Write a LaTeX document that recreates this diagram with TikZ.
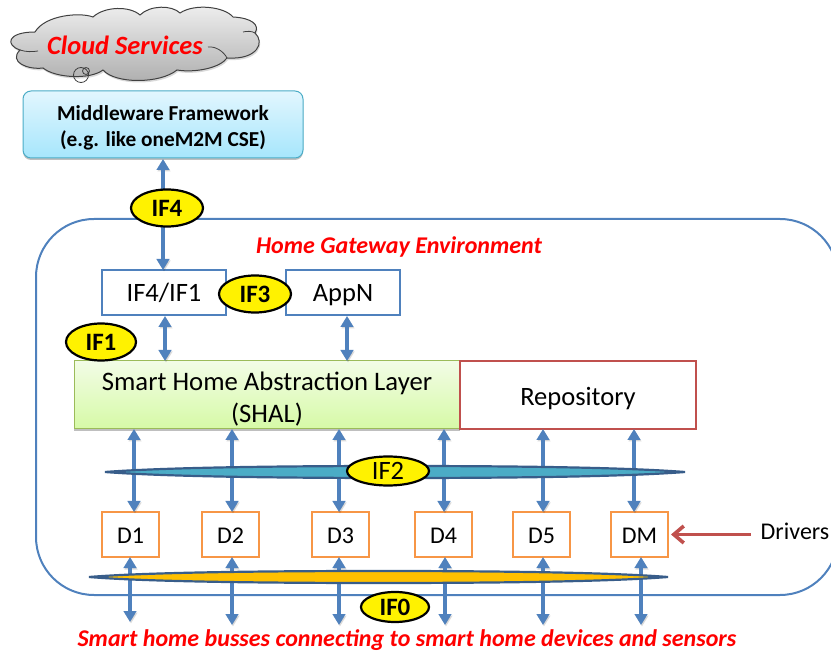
\documentclass[tikz,border=0pt]{standalone}
\usepackage{fontspec}
\setmainfont{Carlito}
\usetikzlibrary{arrows.meta,shapes.geometric,calc}
\definecolor{accblue}{HTML}{4F81BD}
\definecolor{accdark}{HTML}{385D8A}
\definecolor{accred}{HTML}{C0504D}
\definecolor{accorange}{HTML}{F79646}
\definecolor{accaqua}{HTML}{4BACC6}
\definecolor{accgreen}{HTML}{9BBB59}
\definecolor{mwtop}{HTML}{E2F6FE}
\definecolor{mwbot}{HTML}{A6E6FC}
\definecolor{shaltop}{HTML}{F2FCE6}
\definecolor{shalbot}{HTML}{D6FAA6}
\definecolor{busgold}{HTML}{FFC000}
\tikzset{
  every node/.style={outer sep=0pt},
  twoway/.style={draw=accblue,line width=3.8pt,{Triangle[length=11pt,width=12.5pt]}-{Triangle[length=11pt,width=12.5pt]},
    preaction={draw=black,draw opacity=.14,fill opacity=.14,transform canvas={shift={(1pt,-1.5pt)}}}},
  appbox/.style={draw=accblue,line width=2pt,fill=white,minimum width=#1,minimum height=45pt,inner sep=0pt,text height=19pt,text depth=0pt,font=\fontsize{26.5}{30}\selectfont},
  drvbox/.style={draw=accorange,line width=2pt,fill=white,minimum width=57pt,minimum height=45pt,inner sep=0pt,text height=18pt,text depth=0pt,font=\fontsize{24}{28}\selectfont},
  tagnode/.style={ellipse,draw=black,line width=2.2pt,fill=yellow,inner sep=0pt,minimum width=#1,font=\bfseries\fontsize{25}{28}\selectfont},
  tagnode/.default=70pt,
  busline/.style={draw=accdark,line width=2.2pt},
  redlabel/.style={text=red,font=\bfseries\itshape\fontsize{24}{28}\selectfont,inner sep=0pt}
}
\begin{document}
\begin{tikzpicture}[x=1pt,y=-1pt]
\path[use as bounding box] (0,0) rectangle (831,652);
\clip (0,0) rectangle (831,652);
% home gateway environment
\node[draw=accblue,line width=2pt,rounded corners=58pt,minimum width=802pt,minimum height=376pt,inner sep=0pt,anchor=north west] (home) at (36,219) {};
\node[redlabel] (homelabel) at (399,247) {Home Gateway Environment};
% cloud
\path[draw=black!75,line width=1pt,top color=black!6,bottom color=black!32,
  preaction={fill=black,fill opacity=.15,transform canvas={shift={(1pt,-2pt)}}}]
  (35,32) .. controls (45,15) and (80,12) .. (93,17)
  .. controls (105,6) and (130,6) .. (140,15)
  .. controls (150,5) and (172,5) .. (180,13)
  .. controls (195,3) and (225,7) .. (233,17)
  .. controls (252,18) and (260,25) .. (255,33)
  .. controls (265,42) and (258,60) .. (227,58)
  .. controls (220,68) and (195,73) .. (177,70)
  .. controls (160,84) and (115,84) .. (103,70)
  .. controls (90,80) and (55,78) .. (43,68)
  .. controls (28,70) and (8,62) .. (20,50)
  .. controls (5,45) and (7,32) .. (35,32) -- cycle;
\draw[black!75,line width=.8pt]
  (20,50) .. controls (26,52) and (32,52) .. (38,51)
  (208,47) .. controls (216,46) and (224,52) .. (227,58)
  (243,32) .. controls (247,31) and (252,31) .. (255,33)
  (81,75) circle[radius=7.5] (86,71) circle[radius=3.5];
\node[redlabel,font=\bfseries\itshape\fontsize{26.4}{30}\selectfont] (cloudlabel) at (125,45) {Cloud Services};
% middleware
\node[rounded corners=8pt,draw=accaqua,line width=1pt,top color=mwtop,bottom color=mwbot,minimum width=280pt,minimum height=67pt,anchor=north west,inner sep=0pt,align=center,font=\bfseries\fontsize{21.3}{26}\selectfont,
  preaction={fill=black,fill opacity=.25,transform canvas={shift={(0pt,-2pt)}}}] (mw) at (23,91) {\rule{0pt}{22pt}Middleware Framework\\(e.g. like oneM2M CSE)};
% app boxes
\node[appbox=124pt,anchor=north west] (ifbox) at (102,270) {IF4/IF1};
\node[appbox=114pt,anchor=north west] (appn) at (286,270) {AppN};
% SHAL, repository
\node[draw=accgreen,line width=1pt,top color=shaltop,bottom color=shalbot,minimum width=386pt,minimum height=68pt,anchor=north west,inner sep=0pt,align=center,font=\fontsize{26.7}{32}\selectfont,
  preaction={fill=black,fill opacity=.25,transform canvas={shift={(0pt,-2pt)}}}] (shal) at (74,361) {\rule{0pt}{27pt}Smart Home Abstraction Layer\\(SHAL)};
\node[draw=accred,line width=2pt,fill=white,minimum width=236pt,minimum height=68pt,anchor=north west,inner sep=0pt,text height=21pt,text depth=0pt,font=\fontsize{26.5}{30}\selectfont] (repo) at (460,361) {Repository};
% drivers
\node[drvbox,anchor=north west] (d1) at (102,512) {D1};
\node[drvbox,anchor=north west] (d2) at (202,512) {D2};
\node[drvbox,anchor=north west] (d3) at (312,512) {D3};
\node[drvbox,anchor=north west] (d4) at (415,512) {D4};
\node[drvbox,anchor=north west] (d5) at (513,512) {D5};
\node[drvbox,anchor=north west] (dm) at (611,512) {DM};
% arrow columns
\coordinate (ua) at (134,0); \coordinate (ub) at (232,0); \coordinate (uc) at (339,0);
\coordinate (ud) at (444,0); \coordinate (ue) at (543,0); \coordinate (uf) at (634,0);
\coordinate (la) at (130,622); \coordinate (lb) at (232,625); \coordinate (lc) at (339,625);
\coordinate (ld) at (445,625); \coordinate (le) at (543,625); \coordinate (lf) at (641,625);
\coordinate (mwport) at (163,0); \coordinate (ifport) at (165,0); \coordinate (appport) at (347,0);
% connectors
\draw[twoway] (mwport |- mw.south) ++(0,1) -- (mwport |- ifbox.north);
\draw[twoway] (ifport |- ifbox.south) ++(0,1) -- (ifport |- shal.north);
\draw[twoway] (appport |- appn.south) ++(0,1) -- (appport |- shal.north);
\draw[twoway] (ua |- shal.south) -- (ua |- d1.north);
\draw[twoway] (ub |- shal.south) -- (ub |- d2.north);
\draw[twoway] (uc |- shal.south) -- (uc |- d3.north);
\draw[twoway] (ud |- shal.south) -- (ud |- d4.north);
\draw[twoway] (ue |- repo.south) -- (ue |- d5.north);
\draw[twoway] (uf |- repo.south) -- (uf |- dm.north);
\draw[twoway] (la |- d1.south) -- (la);
\draw[twoway] (lb |- d2.south) -- (lb);
\draw[twoway] (lc |- d3.south) -- (lc);
\draw[twoway] (ld |- d4.south) -- (ld);
\draw[twoway] (le |- d5.south) -- (le);
\draw[twoway] (lf |- dm.south) -- (lf);
% buses (lens-shaped)
\path[busline,fill=accaqua] (105,472) .. controls (170,467) and (300,466) .. (395,466)
  .. controls (500,466) and (620,467) .. (685,472)
  .. controls (620,477) and (500,478) .. (395,478)
  .. controls (300,478) and (170,477) .. (105,472) -- cycle;
\path[busline,fill=busgold] (89,577) .. controls (150,572) and (280,571) .. (378,571)
  .. controls (480,571) and (605,572) .. (668,577)
  .. controls (605,582) and (480,583) .. (378,583)
  .. controls (280,583) and (150,582) .. (89,577) -- cycle;
% tags
\node[tagnode=72pt,minimum height=37pt] (if4) at (167,208) {IF4};
\node[tagnode=72pt,minimum height=37pt] (if3) at (255,294) {IF3};
\node[tagnode=70pt,minimum height=37pt] (if1) at (101,342) {IF1};
\node[ellipse,draw=black,line width=2.2pt,fill=yellow,inner sep=0pt,minimum width=82pt,minimum height=29pt,font=\fontsize{26.5}{28}\selectfont] (if2) at (388,471) {IF2};
\node[tagnode=68pt,minimum height=30pt] (if0) at (395,607) {IF0};
% drivers label
\node[inner sep=0pt,font=\fontsize{24}{28}\selectfont] (drvlabel) at (795,531) {Drivers};
\draw[accred,line width=3.6pt,-{Straight Barb[length=10pt,width=17pt]},shorten >=3pt] (drvlabel.west |- dm.east) ++(-10,0) -- (dm.east);
% bottom text
\node[redlabel] (busses) at (407,640) {Smart home busses connecting to smart home devices and sensors};
\end{tikzpicture}
\end{document}
